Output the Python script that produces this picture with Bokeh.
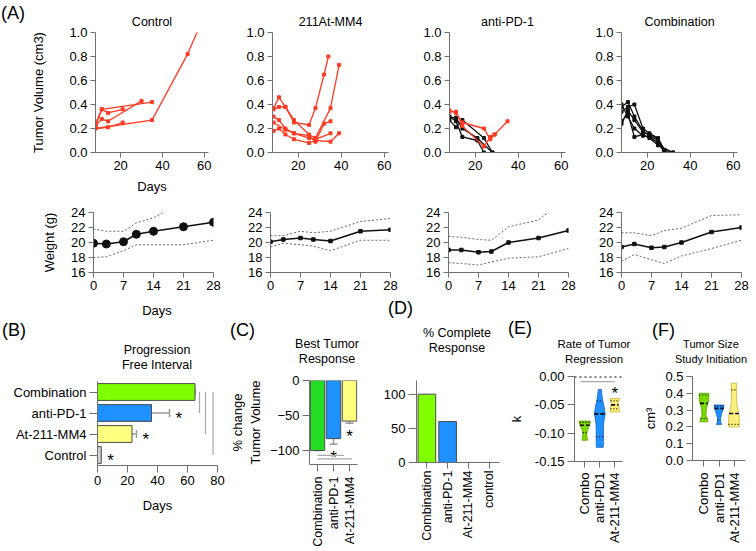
import numpy as np
from math import pi
from bokeh.plotting import figure
from bokeh.layouts import row, column
from bokeh.models import (ColumnDataSource, Range1d, FactorRange, FixedTicker, Title, Div,
                          Whisker, TeeHead, Span, NumeralTickFormatter)
from bokeh.core.properties import value
from bokeh.embed import file_html
from bokeh.resources import INLINE

# ------------------------------------------------------------------ data
# (A) tumour volume, individual animals (days, cm3)
ctrl_days = [[8, 11, 35], [8, 11, 14, 30], [8, 14, 21], [8, 35, 52, 57], [8, 11, 14, 21]]
ctrl_vol = [[0.22, 0.36, 0.42], [0.22, 0.28, 0.26, 0.43], [0.20, 0.21, 0.25],
            [0.20, 0.27, 0.82, 1.02], [0.24, 0.36, 0.33, 0.36]]

at_days = [[8.5, 11, 14, 18, 25, 28, 32, 34], [8.5, 11, 14, 18, 25, 28, 35, 39],
           [8.5, 11, 14, 18, 25, 28, 32, 35], [8.5, 14, 18, 25, 28, 35],
           [8.5, 11, 14, 18, 25, 28, 35, 39]]
at_vol = [[0.37, 0.46, 0.38, 0.25, 0.23, 0.37, 0.65, 0.80],
          [0.36, 0.38, 0.38, 0.27, 0.15, 0.12, 0.37, 0.73],
          [0.30, 0.27, 0.20, 0.16, 0.14, 0.09, 0.24, 0.26],
          [0.25, 0.19, 0.16, 0.12, 0.11, 0.16],
          [0.18, 0.20, 0.15, 0.11, 0.08, 0.10, 0.09, 0.16]]

apd_days_red = [[8, 11, 14, 24, 27, 29, 35], [8, 11, 14, 24, 27, 29]]
apd_vol_red = [[0.35, 0.33, 0.25, 0.20, 0.11, 0.15, 0.26], [0.34, 0.34, 0.22, 0.05, 0.13, 0.15]]
apd_days_blk = [[8, 11, 14, 21, 24], [8, 11, 14, 24, 28], [8, 11, 14, 21, 28]]
apd_vol_blk = [[0.30, 0.26, 0.13, 0.10, 0.0], [0.27, 0.21, 0.27, 0.12, 0.0], [0.29, 0.29, 0.20, 0.12, 0.0]]

combo_days = [[8, 11, 14, 18, 21, 25, 28], [8, 11, 14, 18, 21, 25, 28], [8, 11, 14, 18, 21, 25, 32],
              [8, 11, 14, 18, 21, 25, 28], [8, 11, 14, 18, 21, 25, 28, 32]]
combo_vol = [[0.38, 0.42, 0.30, 0.18, 0.14, 0.10, 0.0], [0.34, 0.38, 0.40, 0.20, 0.16, 0.12, 0.02],
             [0.26, 0.32, 0.13, 0.15, 0.12, 0.06, 0.0], [0.40, 0.30, 0.20, 0.14, 0.13, 0.08, 0.0],
             [0.24, 0.35, 0.27, 0.17, 0.15, 0.11, 0.02, 0.0]]
vol_xticks = [20, 40, 60]
vol_yticks = [0.0, 0.2, 0.4, 0.6, 0.8, 1.0]

# (A) body weight (mean and band)
wt_days = [0, 3, 7, 10, 14, 21, 28]
ctrl_wt = [19.9, 19.8, 20.1, 21.1, 21.5, 22.1, 22.7]
ctrl_wt_hi = [21.8, 21.5, 21.5, 22.6, 23.3, 25.5, 26.0]
ctrl_wt_lo = [18.0, 18.1, 18.9, 19.7, 19.7, 19.7, 20.3]
at_wt = [20.1, 20.4, 20.6, 20.4, 20.2, 21.5, 21.7]
at_wt_hi = [20.9, 20.9, 21.5, 21.3, 21.5, 22.8, 23.2]
at_wt_lo = [19.4, 19.9, 19.7, 19.5, 18.9, 20.3, 20.3]
apd_wt = [19.0, 19.0, 18.7, 18.8, 20.0, 20.6, 21.6]
apd_wt_hi = [20.8, 20.7, 20.4, 20.3, 22.1, 23.0, 26.2]
apd_wt_lo = [17.3, 17.2, 17.0, 17.4, 17.9, 18.1, 19.2]
combo_wt = [19.4, 19.8, 19.3, 19.4, 20.0, 21.4, 22.0]
combo_wt_hi = [21.3, 21.3, 20.9, 21.6, 21.9, 23.6, 23.7]
combo_wt_lo = [17.5, 18.4, 17.7, 17.2, 18.2, 19.2, 20.3]
wt_xticks = [0, 7, 14, 21, 28]
wt_yticks = [16, 18, 20, 22, 24]

# (B) progression free interval
b_groups = ["Control", "At-211-MM4", "anti-PD-1", "Combination"]
b_pfi = [2.5, 23, 36, 65]
b_err = [0, 3, 12, 0]
b_star = ["*", "*", "*", ""]
b_sig_to = ["anti-PD-1", "At-211-MM4", "Control"]
b_xticks = [0, 20, 40, 60, 80]

# (C) best tumour response
c_groups = ["Combination", "anti-PD-1", "At-211-MM4"]
c_best = [-100, -83, -58]
c_err = [0, 8, 3]
c_star = ["", "*", "*"]
c_yticks = [-100, -50, 0]

# (D) complete response
d_groups = ["Combination", "anti-PD-1", "At-211-MM4", "control"]
d_cr = [100, 60, 0, 0]
d_yticks = [0, 50, 100]

# (E) rate of regression (violin outlines: k value, half width)
e_groups = ["Combo", "anti-PD1", "At-211-MM4"]
e_combo_k = [-0.1125, -0.108, -0.104, -0.099, -0.094, -0.089, -0.085, -0.0786]
e_combo_w = [0.18, 0.16, 0.14, 0.14, 0.18, 0.27, 0.34, 0.36]
e_apd_k = [-0.125, -0.115, -0.105, -0.095, -0.084, -0.075, -0.066, -0.055, -0.043, -0.033, -0.023]
e_apd_w = [0.23, 0.24, 0.24, 0.24, 0.25, 0.30, 0.36, 0.30, 0.20, 0.14, 0.10]
e_at_k = [-0.0625, -0.058, -0.053, -0.047, -0.043, -0.039]
e_at_w = [0.33, 0.30, 0.27, 0.22, 0.28, 0.33]
e_median = [-0.086, -0.066, -0.050]
e_q1 = [-0.099, -0.106, -0.057]
e_q3 = [-0.081, -0.043, -0.043]
e_yticks = [-0.15, -0.10, -0.05, 0.0]

# (F) tumour size at initiation
f_groups = ["Combo", "anti-PD1", "At-211-MM4"]
f_combo_v = [0.23, 0.25, 0.27, 0.30, 0.33, 0.35, 0.38, 0.40]
f_combo_w = [0.26, 0.22, 0.14, 0.15, 0.22, 0.30, 0.32, 0.32]
f_apd_v = [0.215, 0.23, 0.25, 0.27, 0.29, 0.31, 0.33]
f_apd_w = [0.18, 0.10, 0.10, 0.15, 0.22, 0.30, 0.32]
f_at_v = [0.20, 0.22, 0.25, 0.28, 0.32, 0.36, 0.40, 0.44, 0.46]
f_at_w = [0.36, 0.36, 0.35, 0.32, 0.22, 0.16, 0.17, 0.18, 0.18]
f_median = [0.34, 0.31, 0.28]
f_q1 = [0.25, 0.24, 0.215]
f_q3 = [0.39, 0.325, 0.42]
f_yticks = [0.0, 0.1, 0.2, 0.3, 0.4, 0.5]

# panel headings of the lower row
row3_titles = ["Progression<br>Free Interval", "Best Tumor<br>Response", "% Complete<br>Response",
               "Rate of Tumor<br>Regression", "Tumor Size<br>Study Initiation"]
row3_letters = ["(B)", "(C)", "(D)", "(E)", "(F)"]

# ------------------------------------------------------------------ style
FONT = "Liberation Sans"
AXC = "#6f6f6f"
RED = "#FF3A22"
BLK = "#111111"
GREEN = "#7FFF00"
GREEN_C = "#22DD22"
GREEN_V = "#78D800"
BLUE = "#1E90FF"
YELLOW = "#FFFF80"
YELLOW_V = "#FFF07A"
GRAY = "#D0D0D0"
SIG = "#A8A8A8"


def frame_fig(bl, fw, br, bt, fh, bb, xr, yr):
    p = figure(width=bl + fw + br, height=bt + fh + bb, x_range=xr, y_range=yr,
               output_backend="svg", toolbar_location=None, title=None,
               min_border_left=bl, min_border_right=br,
               min_border_top=bt, min_border_bottom=bb)
    p.outline_line_color = None
    p.xgrid.visible = False
    p.ygrid.visible = False
    for ax in p.axis:
        ax.axis_line_color = AXC
        ax.major_tick_line_color = AXC
        ax.minor_tick_line_color = None
        ax.major_tick_in = 0
        ax.major_tick_out = 5
        ax.major_label_standoff = 3
        ax.major_label_text_font = FONT
        ax.major_label_text_font_size = "13px"
        ax.major_label_text_color = "black"
        ax.axis_label_text_font = FONT
        ax.axis_label_text_font_size = "13px"
        ax.axis_label_text_font_style = "normal"
        ax.axis_label_text_color = "black"
    return p


def add_title(p, text, size, standoff=0):
    p.add_layout(Title(text=text, align="center", standoff=standoff,
                       text_font=FONT, text_font_size=size, text_font_style="normal",
                       text_color="black"), "above")


def text_block(text, x, yc, size, lh, center=True):
    shift = "transform:translateX(-50%);text-align:center;" if center else ""
    return (f'<div style="position:absolute;left:{x}px;top:{yc - lh / 2:.1f}px;'
            f'font-size:{size};line-height:{lh}px;white-space:nowrap;{shift}">{text}</div>')


def header(width, height, items):
    html = (f'<div style="position:relative;width:{width}px;height:{height}px;'
            f'font-family:\'Liberation Sans\';color:black">'
            + "".join(text_block(*it) for it in items) + "</div>")
    return Div(text=html, width=width, height=height, margin=0)


# ------------------------------------------------------------------ row 1: tumour volume
ROW1_T, VOL_FH, ROW1_B, VOL_FW = 32, 120, 46, 116
vol_borders = [(64, 20), (44, 17), (44, 12), (44, 19)]
vol_titles = ["Control", "211At-MM4", "anti-PD-1", "Combination"]
vol_sets = [[(ctrl_days, ctrl_vol, RED)],
            [(at_days, at_vol, RED)],
            [(apd_days_blk, apd_vol_blk, BLK), (apd_days_red, apd_vol_red, RED)],
            [(combo_days, combo_vol, BLK)]]
row1 = [header(28, ROW1_T + VOL_FH + ROW1_B, [("(A)", 1, 13, "18px", 18, False)])]
for i, (bl, br) in enumerate(vol_borders):
    p = frame_fig(bl, VOL_FW, br, ROW1_T, VOL_FH, ROW1_B, Range1d(8, 62), Range1d(0, 1))
    add_title(p, vol_titles[i], "12.5px", standoff=7)
    p.xaxis.ticker = FixedTicker(ticks=vol_xticks)
    p.yaxis.ticker = FixedTicker(ticks=vol_yticks)
    p.yaxis.formatter = NumeralTickFormatter(format="0.0")
    for days, vols, col in vol_sets[i]:
        p.multi_line(xs=days, ys=vols, line_color=col, line_width=1.3)
        p.scatter(x=np.concatenate(days), y=np.concatenate(vols), marker="square",
                  size=3, color=col)
    if i == 0:
        p.yaxis.axis_label = "Tumor Volume (cm3)"
        p.yaxis.axis_label_standoff = 20
        p.xaxis.axis_label = "Days"
        p.xaxis.axis_label_standoff = 6
    row1.append(p)

# ------------------------------------------------------------------ row 2: weight
ROW2_T, WT_FH, ROW2_B, WT_FW = 14, 60, 28, 120
wt_borders = [(93, 13), (44, 14), (44, 9), (44, 15)]
wt_sets = [(ctrl_wt, ctrl_wt_hi, ctrl_wt_lo), (at_wt, at_wt_hi, at_wt_lo),
           (apd_wt, apd_wt_hi, apd_wt_lo), (combo_wt, combo_wt_hi, combo_wt_lo)]
row2 = []
for i, (bl, br) in enumerate(wt_borders):
    p = frame_fig(bl, WT_FW, br, ROW2_T, WT_FH, ROW2_B, Range1d(0, 28), Range1d(16, 24))
    p.xaxis.ticker = FixedTicker(ticks=wt_xticks)
    p.yaxis.ticker = FixedTicker(ticks=wt_yticks)
    mean, hi, lo = wt_sets[i]
    p.line(wt_days, hi, line_color="#555555", line_dash="2 2", line_width=0.9)
    p.line(wt_days, lo, line_color="#555555", line_dash="2 2", line_width=0.9)
    p.line(wt_days, mean, line_color=BLK, line_width=1.6)
    if i == 0:
        p.scatter(wt_days, mean, size=8, color=BLK)
        p.yaxis.axis_label = "Weight (g)"
        p.yaxis.axis_label_standoff = 11
    else:
        p.scatter(wt_days, mean, size=3.5, marker="square", color=BLK)
    row2.append(p)

# ------------------------------------------------------------------ row 3 (y 300..551)
ROW3_H = 251

# (B): column x 0..227
B_HEAD, B_BL, B_FW, B_BR, B_BT, B_FH = 72, 97, 120, 10, 9, 84
hb = header(B_BL + B_FW + B_BR, B_HEAD, [
    ("Days", 157, 10, "13px", 15, True),
    (row3_letters[0], 2, 30, "18px", 18, False),
    (row3_titles[0], 157, 50, "12.5px", 15, True)])
pb = frame_fig(B_BL, B_FW, B_BR, B_BT, B_FH, ROW3_H - B_HEAD - B_BT - B_FH, Range1d(0, 80),
               FactorRange(factors=b_groups))
pb.xaxis.ticker = FixedTicker(ticks=b_xticks)
pb.xaxis.axis_label = "Days"
pb.xaxis.axis_label_standoff = 10
pb.xaxis.major_tick_out = 7
pb.yaxis.major_tick_out = 8
src_b = ColumnDataSource(dict(g=b_groups, v=b_pfi, hi=[v + e for v, e in zip(b_pfi, b_err)],
                              c=[GRAY, YELLOW, BLUE, GREEN], s=b_star,
                              sx=[v + e + 4 for v, e in zip(b_pfi, b_err)]))
pb.hbar(y="g", left=0, right="v", height=0.8, fill_color="c", line_color="#4d4d4d",
        line_width=1, source=src_b)
pb.add_layout(Whisker(source=src_b, base="g", lower="v", upper="hi", dimension="width",
                      line_color="#9a9a9a", line_width=1.5,
                      upper_head=TeeHead(size=8, line_color="#9a9a9a", line_width=1.5),
                      lower_head=None))
pb.text(x="sx", y="g", text="s", source=src_b, text_font=value(FONT), text_font_size="17px",
        text_align="left", text_baseline="middle", y_offset=5)
b_sig_x = [68, 72, 77]
pb.segment(x0=b_sig_x, x1=b_sig_x, y0=["Combination"] * 3, y1=b_sig_to, line_color=SIG, line_width=1.2)

# (C): column x 227..380
C_HEAD, C_BL, C_FW, C_BR, C_BT, C_FH = 67, 70, 60, 23, 13, 84
hc = header(C_BL + C_FW + C_BR, C_HEAD, [
    (row3_letters[1], 3, 30, "18px", 18, False),
    (row3_titles[1], 100, 44, "12.5px", 15, True)])
pc = frame_fig(C_BL, C_FW, C_BR, C_BT, C_FH, ROW3_H - C_HEAD - C_BT - C_FH,
               FactorRange(factors=c_groups), Range1d(-120, 0))
pc.yaxis.ticker = FixedTicker(ticks=c_yticks)
pc.yaxis.major_tick_out = 7
pc.yaxis.axis_label = "% change\nTumor Volume"
pc.yaxis.axis_label_standoff = 4
pc.xaxis.major_label_orientation = pi / 2
pc.xaxis.major_tick_out = 7
pc.xaxis.major_label_standoff = 5
pc.xaxis.major_label_text_font_size = "12.5px"
src_c = ColumnDataSource(dict(g=c_groups, v=c_best, lo=[v - e for v, e in zip(c_best, c_err)],
                              c=[GREEN_C, BLUE, YELLOW], s=c_star,
                              sy=[v - e - 12 for v, e in zip(c_best, c_err)]))
pc.vbar(x="g", top=0, bottom="v", width=0.9, fill_color="c", line_color="#4d4d4d", line_width=1,
        source=src_c)
pc.add_layout(Whisker(source=src_c, base="g", lower="lo", upper="v", dimension="height",
                      line_color="#9a9a9a", line_width=1.5,
                      lower_head=TeeHead(size=8, line_color="#9a9a9a", line_width=1.5),
                      upper_head=None))
pc.text(x="g", y="sy", text="s", source=src_c, text_font=value(FONT), text_font_size="17px",
        text_align="center", text_baseline="middle", y_offset=5)
c_sig_x0 = [0.5, 0.5]
c_sig_x1 = [2.15, 2.65]
c_sig_y = [-107, -112]
pc.segment(x0=c_sig_x0, x1=c_sig_x1, y0=c_sig_y, y1=c_sig_y, line_color=SIG, line_width=1.2)

# (D): column x 380..505
D_HEAD, D_BL, D_FW, D_BR, D_BT, D_FH = 60, 34, 85, 6, 20, 82
hd = header(D_BL + D_FW + D_BR, D_HEAD, [
    (row3_letters[2], 8, 8, "18px", 18, False),
    (row3_titles[2], 77, 33, "12.5px", 15, True)])
pd_ = frame_fig(D_BL, D_FW, D_BR, D_BT, D_FH, ROW3_H - D_HEAD - D_BT - D_FH,
                FactorRange(factors=d_groups), Range1d(0, 120))
pd_.yaxis.ticker = FixedTicker(ticks=d_yticks)
pd_.yaxis.major_tick_out = 8
pd_.xaxis.major_tick_out = 6
pd_.xaxis.major_label_standoff = 2
pd_.xaxis.major_label_orientation = pi / 2
pd_.xaxis.major_label_text_font_size = "12.5px"
pd_.vbar(x=d_groups, top=d_cr, bottom=0, width=0.85,
         fill_color=[GREEN, BLUE, YELLOW, GRAY], line_color="#4d4d4d", line_width=1)


def violin(p, center, vals, widths, color, edge, med, q1, q3):
    vals = np.asarray(vals)
    widths = np.asarray(widths)
    xs = np.concatenate([center - widths, (center + widths)[::-1]])
    ys = np.concatenate([vals, vals[::-1]])
    p.patch(xs, ys, fill_color=color, line_color=edge, line_width=0.8)
    for q, dash, lw in ((med, "4 2", 1.6), (q1, "1 2", 1.2), (q3, "1 2", 1.2)):
        hw = float(np.interp(q, vals, widths))
        p.line([center - hw, center + hw], [q, q], line_color="black", line_dash=dash, line_width=lw)


# (E): column x 505..640
E_HEAD, E_BL, E_FW, E_BR, E_BT, E_FH = 64, 61, 56, 18, 12, 85
he = header(E_BL + E_FW + E_BR, E_HEAD, [
    (row3_letters[3], 3, 28, "18px", 18, False),
    (row3_titles[3], 89, 44, "11.5px", 15, True)])
pe = frame_fig(E_BL, E_FW, E_BR, E_BT, E_FH, ROW3_H - E_HEAD - E_BT - E_FH, Range1d(0.314, 3.514),
               Range1d(-0.15, 0.0))
pe.yaxis.ticker = FixedTicker(ticks=e_yticks)
pe.yaxis.formatter = NumeralTickFormatter(format="0.00")
pe.yaxis.axis_label = "k"
pe.yaxis.axis_label_standoff = 8
pe.yaxis.major_tick_out = 7
pe.xaxis.ticker = FixedTicker(ticks=[1, 2, 3])
pe.xaxis.major_label_overrides = {1: e_groups[0], 2: e_groups[1], 3: e_groups[2]}
pe.xaxis.major_label_orientation = pi / 2
pe.xaxis.major_tick_out = 6
pe.xaxis.major_label_standoff = 5
pe.xaxis.major_label_text_font_size = "13px"
pe.add_layout(Span(location=0.0, dimension="width", line_color="black", line_width=2.2,
                   line_dash="2 3"))
violin(pe, 1, e_combo_k, e_combo_w, GREEN_V, "#5aa000", e_median[0], e_q1[0], e_q3[0])
violin(pe, 2, e_apd_k, e_apd_w, BLUE, "#1060c0", e_median[1], e_q1[1], e_q3[1])
violin(pe, 3, e_at_k, e_at_w, YELLOW_V, "#c8b440", e_median[2], e_q1[2], e_q3[2])
e_sig_x0, e_sig_x1, e_sig_y = [0.7], [3.0], [-0.009]
pe.segment(x0=e_sig_x0, x1=e_sig_x1, y0=e_sig_y, y1=e_sig_y, line_color=SIG, line_width=1.2)
pe.text(x=[3], y=[-0.021], text=["*"], text_font=value(FONT), text_font_size="17px",
        text_align="center", text_baseline="middle", y_offset=5)

# (F): column x 640..756
F_HEAD, F_BL, F_FW, F_BR, F_BT, F_FH = 64, 45, 60, 11, 12, 84
hf = header(F_BL + F_FW + F_BR, F_HEAD, [
    (row3_letters[4], 12, 30, "18px", 18, False),
    (row3_titles[4], 71, 44, "11px", 15, True)])
pf = frame_fig(F_BL, F_FW, F_BR, F_BT, F_FH, ROW3_H - F_HEAD - F_BT - F_FH, Range1d(0.235, 3.765),
               Range1d(0, 0.5))
pf.yaxis.ticker = FixedTicker(ticks=f_yticks)
pf.yaxis.formatter = NumeralTickFormatter(format="0.0")
pf.yaxis.axis_label = "cm³"
pf.yaxis.axis_label_standoff = 4
pf.yaxis.major_tick_out = 6
pf.xaxis.ticker = FixedTicker(ticks=[1, 2, 3])
pf.xaxis.major_label_overrides = {1: f_groups[0], 2: f_groups[1], 3: f_groups[2]}
pf.xaxis.major_label_orientation = pi / 2
pf.xaxis.major_tick_out = 6
pf.xaxis.major_label_standoff = 6
pf.xaxis.major_label_text_font_size = "13px"
violin(pf, 1, f_combo_v, f_combo_w, GREEN_V, "#5aa000", f_median[0], f_q1[0], f_q3[0])
violin(pf, 2, f_apd_v, f_apd_w, BLUE, "#1060c0", f_median[1], f_q1[1], f_q3[1])
violin(pf, 3, f_at_v, f_at_w, YELLOW_V, "#c8b440", f_median[2], f_q1[2], f_q3[2])

row3 = row(column(hb, pb), column(hc, pc), column(hd, pd_), column(he, pe), column(hf, pf))
layout = column(row(*row1), row(*row2), row3)
open("out.html", "w").write(file_html(layout, INLINE))
